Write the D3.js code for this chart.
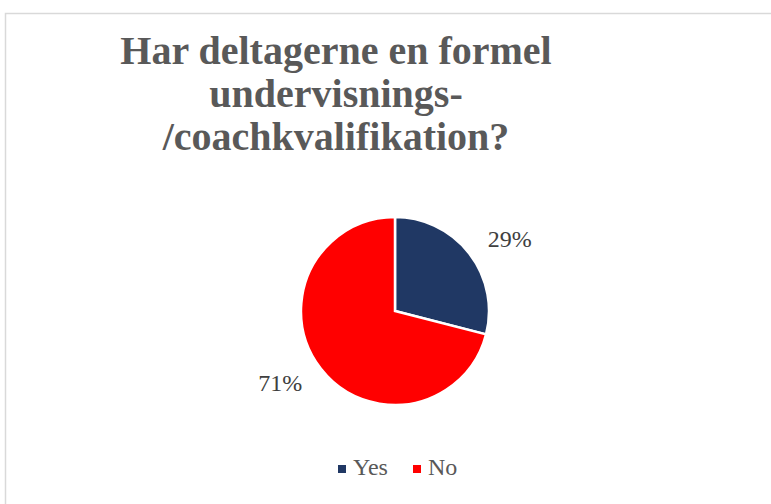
<!DOCTYPE html>
<html>
<head>
<meta charset="utf-8">
<script src="https://cdn.jsdelivr.net/npm/d3@7"></script>
<style>
  body { margin: 0; background: #fff; }
  svg { display: block; }
</style>
</head>
<body>
<svg id="chart" width="771" height="504"></svg>
<script>
const categories = ["Yes", "No"];
const values = [29, 71];
const colors = ["#203864", "#FF0000"];
const titleLines = ["Har deltagerne en formel", "undervisnings-", "/coachkvalifikation?"];

const width = 771, height = 504;
const svg = d3.select("#chart");

// chart border (right/bottom edges fall outside the picture)
svg.append("rect")
  .attr("x", 5.5).attr("y", 13.5)
  .attr("width", 800).attr("height", 600)
  .attr("fill", "none")
  .attr("stroke", "#d9d9d9")
  .attr("stroke-width", 1.5);

// title
svg.append("text")
  .attr("x", 336).attr("y", 64)
  .attr("text-anchor", "middle")
  .attr("font-family", "'Liberation Serif', 'DejaVu Serif', serif")
  .attr("font-weight", "bold")
  .attr("font-size", 40)
  .attr("fill", "#595959")
  .selectAll("tspan")
  .data(titleLines)
  .enter()
  .append("tspan")
  .attr("x", 336)
  .attr("dy", (d, i) => i === 0 ? 0 : 43)
  .text(d => d);

const cx = 395, cy = 311, r = 94;
const pie = d3.pie().sort(null).value(d => d.value);
const arc = d3.arc().innerRadius(0).outerRadius(r);
const data = categories.map((c, i) => ({ name: c, value: values[i], color: colors[i] }));
const total = d3.sum(values);

const g = svg.append("g").attr("transform", "translate(" + cx + "," + cy + ")");

g.selectAll("path")
  .data(pie(data))
  .enter()
  .append("path")
  .attr("d", arc)
  .attr("fill", d => d.data.color)
  .attr("stroke", "#fff")
  .attr("stroke-width", 2.5);

// outside labels: box sits just outside the rim, shifted sideways by half its width
const labelArc = d3.arc().innerRadius(r * 1.25).outerRadius(r * 1.25);
g.selectAll(".lbl")
  .data(pie(data))
  .enter()
  .append("text")
  .attr("class", "lbl")
  .attr("text-anchor", "middle")
  .attr("dy", "0.35em")
  .attr("font-family", "'Liberation Serif', 'DejaVu Serif', serif")
  .attr("font-size", 24)
  .attr("fill", "#404040")
  .text(d => Math.round(d.data.value / total * 100) + "%")
  .attr("transform", function (d) {
    const c = labelArc.centroid(d);
    const half = this.getComputedTextLength() / 2;
    return "translate(" + (c[0] + Math.sign(c[0]) * half) + "," + c[1] + ")";
  });

// legend
const legendX = [338, 413];
const legend = svg.append("g");
const items = legend.selectAll("g")
  .data(data)
  .enter()
  .append("g")
  .attr("transform", (d, i) => "translate(" + legendX[i] + ",475)");
items.append("rect")
  .attr("x", 0).attr("y", -10)
  .attr("width", 8).attr("height", 8)
  .attr("fill", d => d.color);
items.append("text")
  .attr("x", 15).attr("y", 0)
  .attr("font-family", "'Liberation Serif', 'DejaVu Serif', serif")
  .attr("font-size", 24)
  .attr("fill", "#595959")
  .text(d => d.name);
</script>
</body>
</html>
